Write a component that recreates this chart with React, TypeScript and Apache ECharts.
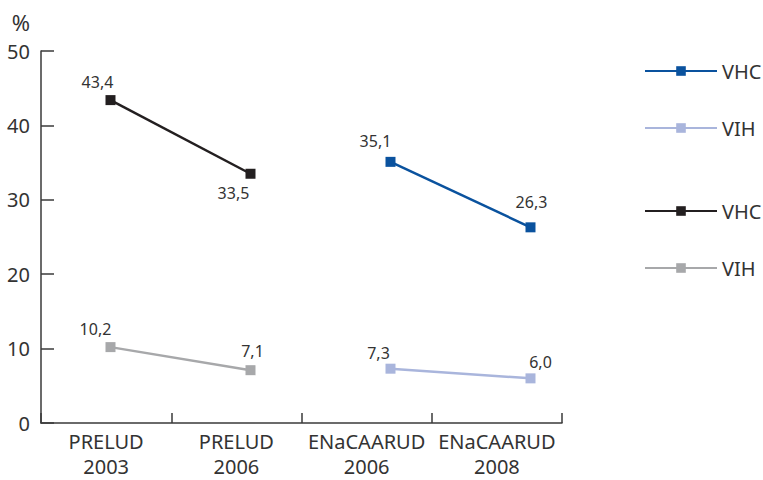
import React, { useEffect, useRef } from "react";
import * as echarts from "echarts";

const categories = ["PRELUD\n2003", "PRELUD\n2006", "ENaCAARUD\n2006", "ENaCAARUD\n2008"];
const preludVHC = [43.4, 33.5, null, null];
const preludVIH = [10.2, 7.1, null, null];
const enaVHC = [null, null, 35.1, 26.3];
const enaVIH = [null, null, 7.3, 6.0];
const yTicks = [0, 10, 20, 30, 40, 50];

// label offsets (px) per point, styling only
const offsPreludVHC = [[-13, -18], [-17, 19]];
const offsPreludVIH = [[-15, -18], [2, -19]];
const offsEnaVHC = [[-15, -21], [1, -25]];
const offsEnaVIH = [[-12, -16], [10, -16]];

const FONT = "Noto Sans";
const TXT = "#333333";

function toPoints(vals: (number | null)[], offs: number[][]) {
  const out: any[] = [];
  let k = 0;
  vals.forEach((v, i) => {
    if (v === null) return;
    const o = offs[k++] || [0, -15];
    out.push({ value: [i, v], label: { offset: o } });
  });
  return out;
}

function makeSeries(name: string, vals: (number | null)[], offs: number[][], color: string) {
  return {
    name,
    type: "line",
    xAxisIndex: 1,
    data: toPoints(vals, offs),
    symbol: "rect",
    symbolSize: 10,
    lineStyle: { color, width: 2.5 },
    itemStyle: { color },
    label: {
      show: true,
      position: "inside",
      color: TXT,
      fontSize: 16,
      fontFamily: FONT,
      formatter: (p: any) => p.value[1].toFixed(1).replace(".", ","),
    },
  };
}

export default function App() {
  const ref = useRef<HTMLDivElement>(null);
  useEffect(() => {
    if (!ref.current) return;
    const chart = echarts.init(ref.current, undefined, { renderer: "svg" });
    const legendText = { fontSize: 20, color: TXT, fontFamily: FONT, lineHeight: 20 };
    chart.setOption({
      animation: false,
      textStyle: { fontFamily: FONT },
      grid: { left: 41, right: 201, top: 51, bottom: 57, containLabel: false, outerBoundsMode: "none" },
      legend: [
        {
          orient: "vertical",
          left: 639,
          top: 56,
          itemWidth: 72,
          itemHeight: 12,
          itemGap: 37,
          data: ["ENaCAARUD VHC", "ENaCAARUD VIH"],
          formatter: (n: string) => n.split(" ")[1],
          textStyle: legendText,
        },
        {
          orient: "vertical",
          left: 639,
          top: 196,
          itemWidth: 72,
          itemHeight: 12,
          itemGap: 37,
          data: ["PRELUD VHC", "PRELUD VIH"],
          formatter: (n: string) => n.split(" ")[1],
          textStyle: legendText,
        },
      ],
      xAxis: [
        {
          type: "category",
          data: categories,
          boundaryGap: true,
          axisLine: { show: true, onZero: false, lineStyle: { color: "#3a3a3a", width: 1.5 } },
          axisTick: { show: true, inside: true, length: 10, lineStyle: { color: "#3a3a3a", width: 1.5 } },
          axisLabel: { fontSize: 20, color: TXT, fontFamily: FONT, lineHeight: 25, margin: 6, interval: 0 },
          splitLine: { show: false },
        },
        {
          type: "value",
          show: false,
          min: -0.4964,
          max: 3.225,
          splitLine: { show: false },
        },
      ],
      yAxis: {
        type: "value",
        min: yTicks[0],
        max: yTicks[yTicks.length - 1],
        interval: 10,
        name: "%",
        nameLocation: "end",
        nameGap: 18,
        nameTextStyle: { fontSize: 22, color: TXT, fontFamily: FONT, align: "right", padding: [0, 11, 0, 0] },
        axisLine: { show: true, onZero: false, lineStyle: { color: "#3a3a3a", width: 1.5 } },
        axisTick: { show: true, inside: true, length: 13, lineStyle: { color: "#3a3a3a", width: 1.5 } },
        axisLabel: { fontSize: 20, color: TXT, fontFamily: FONT, margin: 11 },
        splitLine: { show: false },
      },
      series: [
        makeSeries("ENaCAARUD VHC", enaVHC, offsEnaVHC, "#0a529e"),
        makeSeries("ENaCAARUD VIH", enaVIH, offsEnaVIH, "#a9b5dc"),
        makeSeries("PRELUD VHC", preludVHC, offsPreludVHC, "#231f20"),
        makeSeries("PRELUD VIH", preludVIH, offsPreludVIH, "#a7a8aa"),
      ],
    });
    return () => chart.dispose();
  }, []);
  return <div ref={ref} style={{ width: 763, height: 480, position: "absolute", left: 0, top: 0, background: "#fff" }} />;
}
